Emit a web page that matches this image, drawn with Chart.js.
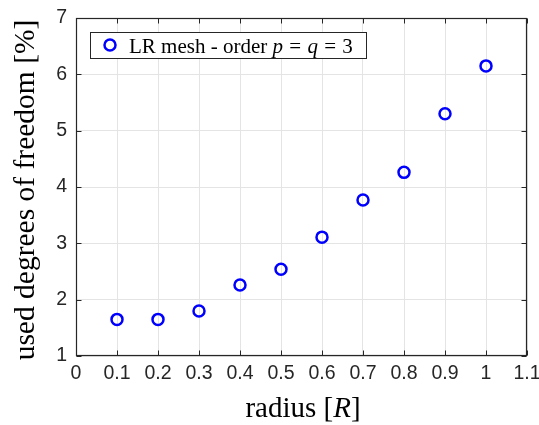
<!DOCTYPE html>
<html>
<head>
<meta charset="utf-8">
<script src="https://cdn.jsdelivr.net/npm/chart.js@4/dist/chart.umd.min.js"></script>
<style>
html,body{margin:0;padding:0;background:#fff;}
#wrap{width:539px;height:425px;position:relative;}
</style>
</head>
<body>
<div id="wrap"><canvas id="c" width="539" height="425"></canvas></div>
<script>
// ---- data ----
const radius = [0.1, 0.2, 0.3, 0.4, 0.5, 0.6, 0.7, 0.8, 0.9, 1.0];
const usedDof = [1.65, 1.65, 1.80, 2.26, 2.54, 3.11, 3.77, 4.26, 5.30, 6.15];
const xTicks = [0, 0.1, 0.2, 0.3, 0.4, 0.5, 0.6, 0.7, 0.8, 0.9, 1.0, 1.1];
const xTickLabels = ['0', '0.1', '0.2', '0.3', '0.4', '0.5', '0.6', '0.7', '0.8', '0.9', '1', '1.1'];
const yTicks = [1, 2, 3, 4, 5, 6, 7];
const yTickLabels = ['1', '2', '3', '4', '5', '6', '7'];
const seriesLabel = 'LR mesh - order p = q = 3';
const xTitle = [['radius [', 'n'], ['R', 'i'], [']', 'n']];
const yTitle = [['used degrees of freedom [%]', 'n']];
const legendParts = [['LR mesh - order ', 'n'], ['p', 'i'], ['=', 'op'], ['q', 'i'], ['=', 'op'], ['3', 'n']];

const AXIS = '#262626';
const SERIF = '"Liberation Serif", "Times New Roman", serif';

function drawRich(ctx, parts, size, x, y, align, gapEm) {
  const fontFor = t => (t === 'i' ? 'italic ' : '') + size + 'px ' + SERIF;
  const gap = (gapEm || 0) * size;
  let widths = parts.map(p => { ctx.font = fontFor(p[1]); return ctx.measureText(p[0]).width + (p[1] === 'op' ? 2 * gap : 0); });
  const total = widths.reduce((a, b) => a + b, 0);
  let cx = align === 'center' ? x - total / 2 : x;
  ctx.textAlign = 'left';
  ctx.textBaseline = 'alphabetic';
  parts.forEach((p, i) => {
    ctx.font = fontFor(p[1]);
    ctx.fillText(p[0], cx + (p[1] === 'op' ? gap : 0), y);
    cx += widths[i];
  });
}

const decor = {
  id: 'decor',
  afterDraw(chart) {
    const {ctx, chartArea: a, scales: {x, y}} = chart;
    ctx.save();
    ctx.strokeStyle = AXIS;
    ctx.lineWidth = 1;
    const L = Math.round(a.left) + 0.5, R = Math.round(a.right) - 0.5;
    const T = Math.round(a.top) + 0.5, B = Math.round(a.bottom) - 0.5;
    ctx.beginPath();
    xTicks.forEach(v => {
      const px = Math.round(x.getPixelForValue(v)) + 0.5;
      ctx.moveTo(px, B); ctx.lineTo(px, B - 5);
      ctx.moveTo(px, T); ctx.lineTo(px, T + 5);
    });
    yTicks.forEach(v => {
      const py = Math.round(y.getPixelForValue(v)) + 0.5;
      ctx.moveTo(L, py); ctx.lineTo(L + 5, py);
      ctx.moveTo(R, py); ctx.lineTo(R - 5, py);
    });
    ctx.stroke();
    ctx.lineWidth = 1.2;
    ctx.strokeRect(L, T, R - L, B - T);

    // legend
    ctx.fillStyle = '#fff';
    ctx.fillRect(90.5, 32.5, 276, 26);
    ctx.lineWidth = 1;
    ctx.strokeStyle = AXIS;
    ctx.strokeRect(90.5, 32.5, 276, 26);
    ctx.beginPath();
    ctx.strokeStyle = '#0000ff';
    ctx.lineWidth = 2.5;
    ctx.arc(110, 45, 5.5, 0, Math.PI * 2);
    ctx.stroke();
    ctx.fillStyle = '#000';
    drawRich(ctx, legendParts, 21, 129, 52.5, 'left', 0.3);

    // axis titles
    ctx.fillStyle = '#000';
    drawRich(ctx, xTitle, 29, 303, 417, 'center');
    ctx.translate(34, 190);
    ctx.rotate(-Math.PI / 2);
    drawRich(ctx, yTitle, 29.5, 0, 0, 'center');
    ctx.restore();
  }
};

new Chart(document.getElementById('c'), {
  type: 'scatter',
  data: {
    datasets: [{
      label: seriesLabel,
      data: radius.map((r, i) => ({x: r, y: usedDof[i]})),
      pointStyle: 'circle',
      pointRadius: 5.5,
      pointHoverRadius: 5.5,
      pointBorderWidth: 2.5,
      borderColor: '#0000ff',
      backgroundColor: 'rgba(0,0,0,0)',
      showLine: false
    }]
  },
  options: {
    responsive: false,
    animation: false,
    devicePixelRatio: 1,
    layout: {padding: {top: 18, right: 12, left: 0, bottom: 0}},
    plugins: {legend: {display: false}, tooltip: {enabled: false}},
    scales: {
      x: {
        type: 'linear', min: 0, max: 1.1,
        afterBuildTicks: s => { s.ticks = xTicks.map(v => ({value: v})); },
        afterFit: s => { s.height = 69; s.paddingLeft = 0; s.paddingRight = 0; },
        ticks: {
          callback: (v, i) => xTickLabels[i],
          color: AXIS, padding: 6, maxRotation: 0, autoSkip: false,
          font: {family: '"Liberation Sans", Arial, sans-serif', size: 19.5}
        },
        grid: {color: '#e4e4e4', lineWidth: 1, drawTicks: false},
        border: {display: false}
      },
      y: {
        type: 'linear', min: 1, max: 7,
        afterBuildTicks: s => { s.ticks = yTicks.map(v => ({value: v})); },
        afterFit: s => { s.width = 76; s.paddingTop = 0; s.paddingBottom = 0; },
        ticks: {
          callback: (v, i) => yTickLabels[i],
          color: AXIS, padding: 9, autoSkip: false,
          font: {family: '"Liberation Sans", Arial, sans-serif', size: 19.5}
        },
        grid: {color: '#e4e4e4', lineWidth: 1, drawTicks: false},
        border: {display: false}
      }
    }
  },
  plugins: [decor]
});
</script>
</body>
</html>
